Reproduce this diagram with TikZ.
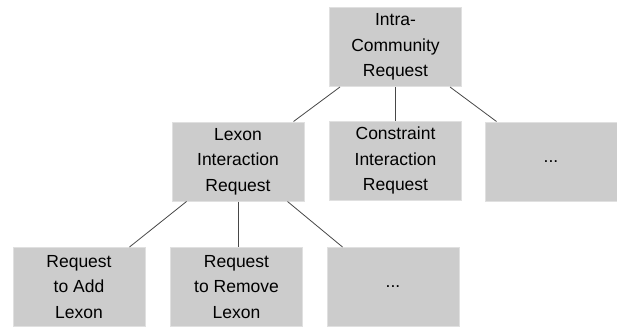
\documentclass[tikz,border=0pt]{standalone}
\usepackage{fontspec}
\setmainfont{Liberation Sans}
\usepackage{tikz}

\tikzset{
  reqbox/.style={draw=black!12, line width=1pt, fill=black!20, minimum width=132, minimum height=79,
    inner sep=0pt, align=center, font=\fontsize{17.5}{25.5}\selectfont},
  reqlink/.style={draw=black!72, line width=0.8pt}
}

\begin{document}
\begin{tikzpicture}[x=1pt,y=1pt,yscale=-1,xscale=1]
\useasboundingbox (0,0) rectangle (617,329);

% Boxes
\node [reqbox] (intra) at (395.5,47) {Intra-\\Community\\Request};
\node [reqbox] (lexon) at (238,161.5) {Lexon\\Interaction\\Request};
\node [reqbox] (constraint) at (395.5,160.5) {Constraint\\Interaction\\Request};
\node [reqbox] (moreA) at (551,161.5) {...};
\node [reqbox] (addlexon) at (79,287) {Request\\to Add\\Lexon};
\node [reqbox] (removelexon) at (236.5,287) {Request\\to Remove\\Lexon};
\node [reqbox] (moreB) at (393,287) {...};

% Links from the top request
\draw [reqlink] ([xshift=11]intra.south west) -- ([xshift=-11]lexon.north east);
\draw [reqlink] (intra) -- (constraint);
\draw [reqlink] ([xshift=-12]intra.south east) -- ([xshift=12]moreA.north west);

% Links from the lexon request
\draw [reqlink] ([xshift=15]lexon.south west) -- ([xshift=-16]addlexon.north east);
\draw [reqlink] (lexon.south) -- (lexon.south |- removelexon.north);
\draw [reqlink] ([xshift=-17]lexon.south east) -- ([xshift=16]moreB.north west);

\end{tikzpicture}
\end{document}
